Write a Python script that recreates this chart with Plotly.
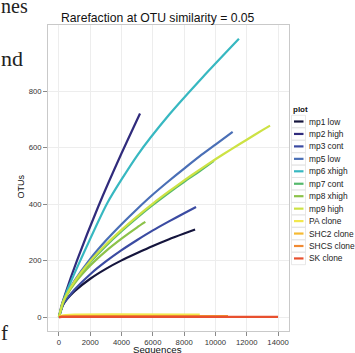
import plotly.graph_objects as go

# ---------------- data ----------------
series_names = ["mp1 low", "mp2 high", "mp3 cont", "mp5 low", "mp6 xhigh", "mp7 cont",
                "mp8 xhigh", "mp9 high", "PA clone", "SHC2 clone", "SHCS clone", "SK clone"]
series_colors = ["#15153d", "#302b7c", "#3b4ba2", "#4a6fb6", "#37b8c1", "#55b96c",
                 "#8cc24a", "#cde244", "#f2e84e", "#f6ba32", "#f08a33", "#e8502f"]

mp1_low_x = [0, 250, 500, 1000, 2000, 3000, 4000, 5000, 6000, 7000, 8000, 8700]
mp1_low_y = [0, 42, 63, 92, 136, 171, 201, 227, 252, 275, 296, 310]

mp2_high_x = [0, 150, 400, 1150, 2500, 4000, 5180]
mp2_high_y = [0, 38, 82, 200, 390, 580, 721]

mp3_cont_x = [0, 250, 500, 1000, 2000, 3000, 4000, 5000, 6000, 7000, 8000, 8760]
mp3_cont_y = [0, 44, 64, 98, 152, 197, 237, 273, 307, 338, 368, 390]

mp5_low_x = [0, 250, 500, 1000, 2000, 3000, 4000, 5000, 6000, 7000, 8000, 9000, 10000, 11100]
mp5_low_y = [0, 51, 81, 129, 206, 271, 329, 383, 434, 481, 526, 570, 611, 656]

mp6_xhigh_x = [0, 250, 600, 1360, 3100, 5000, 7050, 9200, 11500]
mp6_xhigh_y = [0, 52, 104, 200, 405, 572, 717, 850, 985]

mp7_cont_x = [0, 250, 500, 1000, 2000, 3000, 4000, 5000, 6000, 7000, 8000, 9000, 9900]
mp7_cont_y = [0, 50, 79, 123, 194, 252, 304, 352, 397, 439, 479, 517, 553]

mp8_xhigh_x = [0, 250, 500, 1000, 2000, 3000, 4000, 5000, 5520]
mp8_xhigh_y = [0, 50, 78, 120, 183, 234, 278, 318, 337]

mp9_high_x = [0, 250, 500, 1000, 2000, 3000, 4000, 5000, 6000, 7000, 8000, 9000, 10000,
              11000, 12000, 13000, 13490]
mp9_high_y = [0, 52, 81, 127, 198, 257, 309, 357, 402, 444, 484, 522, 559, 594, 628, 662, 678]

PA_clone_x = [0, 200, 1000, 9000]
PA_clone_y = [0, 6, 9, 9]

SHC2_clone_x = [0, 200, 1000, 10800]
SHC2_clone_y = [0, 3, 4, 4]

SHCS_clone_x = [0, 200, 1000, 10800]
SHCS_clone_y = [0, 2, 3, 3]

SK_clone_x = [0, 200, 1000, 14000]
SK_clone_y = [0, 1, 1, 1]

series_x = [mp1_low_x, mp2_high_x, mp3_cont_x, mp5_low_x, mp6_xhigh_x, mp7_cont_x,
            mp8_xhigh_x, mp9_high_x, PA_clone_x, SHC2_clone_x, SHCS_clone_x, SK_clone_x]
series_y = [mp1_low_y, mp2_high_y, mp3_cont_y, mp5_low_y, mp6_xhigh_y, mp7_cont_y,
            mp8_xhigh_y, mp9_high_y, PA_clone_y, SHC2_clone_y, SHCS_clone_y, SK_clone_y]

x_ticks = [0, 2000, 4000, 6000, 8000, 10000, 12000, 14000]
y_ticks = [0, 200, 400, 600, 800]

title_text = "Rarefaction at OTU similarity = 0.05"
x_title = "Sequences"
y_title = "OTUs"
legend_title = "plot"
page_fragments = ["nes", "nd", "f"]

# ---------------- layout geometry (pixels) ----------------
W, H = 355, 353
L, R, T, B = 48, 289, 25, 331          # plot area edges in px
PW, PH = R - L, B - T


def px(xp):
    return (xp - L) / PW


def py(yp):
    return (B - yp) / PH


FONT = "Liberation Sans, Arial, Helvetica, sans-serif"

fig = go.Figure()
for name, col, xs, ys in zip(series_names, series_colors, series_x, series_y):
    fig.add_trace(go.Scatter(x=xs, y=ys, mode="lines", name=name,
                             line=dict(color=col, width=2.2, shape="spline", smoothing=0.6),
                             showlegend=False, hoverinfo="skip"))

axis_common = dict(showgrid=True, gridcolor="#ededed", gridwidth=1, zeroline=False,
                   showline=True, linecolor="#c9c9c9", linewidth=1, mirror=True,
                   ticks="outside", ticklen=4, tickwidth=1, tickcolor="#8a8a8a",
                   automargin=False,
                   tickfont=dict(family=FONT, size=7.7, color="#333333"))

fig.update_layout(
    width=W, height=H,
    margin=dict(l=L, r=W - R, t=T, b=H - B, pad=0, autoexpand=False),
    paper_bgcolor="white", plot_bgcolor="white",
    showlegend=False,
    xaxis=dict(range=[-700, 14700], tickvals=x_ticks, ticktext=[str(v) for v in x_ticks],
               **axis_common),
    yaxis=dict(range=[-49, 1034], tickvals=y_ticks, ticktext=[str(v) for v in y_ticks],
               **axis_common),
)

ann = []
shapes = []
# title
ann.append(dict(text=title_text, x=px(158), y=py(18), xref="paper", yref="paper",
                xanchor="center", yanchor="middle", showarrow=False,
                font=dict(family=FONT, size=12.2, color="#111111")))
# axis titles
ann.append(dict(text=x_title, x=px(157), y=py(349.5), xref="paper", yref="paper",
                xanchor="center", yanchor="middle", showarrow=False,
                font=dict(family=FONT, size=9.7, color="#111111")))
ann.append(dict(text=y_title, x=px(20.5), y=py(187), xref="paper", yref="paper",
                xanchor="center", yanchor="middle", showarrow=False, textangle=-90,
                font=dict(family=FONT, size=9, color="#111111")))

# manual legend (ggplot style)
leg_top = 121.5
leg_step = 12.45
ann.append(dict(text="<b>" + legend_title + "</b>", x=px(291), y=py(109.5), xref="paper",
                yref="paper", xanchor="left", yanchor="middle", showarrow=False,
                font=dict(family=FONT, size=8, color="#111111")))
for i, (name, col) in enumerate(zip(series_names, series_colors)):
    yc = leg_top + i * leg_step
    shapes.append(dict(type="rect", xref="paper", yref="paper",
                       x0=px(291.5), x1=px(305.5), y0=py(yc - leg_step / 2), y1=py(yc + leg_step / 2),
                       line=dict(color="#e2e2e2", width=0.8), fillcolor="rgba(0,0,0,0)"))
    shapes.append(dict(type="line", xref="paper", yref="paper",
                       x0=px(294), x1=px(303.5), y0=py(yc), y1=py(yc),
                       line=dict(color=col, width=2.2)))
    ann.append(dict(text=name, x=px(306.5), y=py(yc), xref="paper", yref="paper",
                    xanchor="left", yanchor="middle", showarrow=False,
                    font=dict(family=FONT, size=8.4, color="#222222")))

# fragments of the surrounding page text visible in the crop
frag_pos = [(-1, 5.6, 20), (-1, 58.3, 22), (-1, 333, 21)]
for t, (fx, fy, fs) in zip(page_fragments, frag_pos):
    ann.append(dict(text=t, x=px(fx), y=py(fy), xref="paper", yref="paper",
                    xanchor="left", yanchor="middle", showarrow=False,
                    font=dict(family="Liberation Serif, Times New Roman, serif", size=fs,
                              color="#222222")))

fig.update_layout(annotations=ann, shapes=shapes)
fig.write_html("out.html", config={"displayModeBar": False},
               post_script="document.body.style.margin='0';document.body.style.overflow='hidden';")
